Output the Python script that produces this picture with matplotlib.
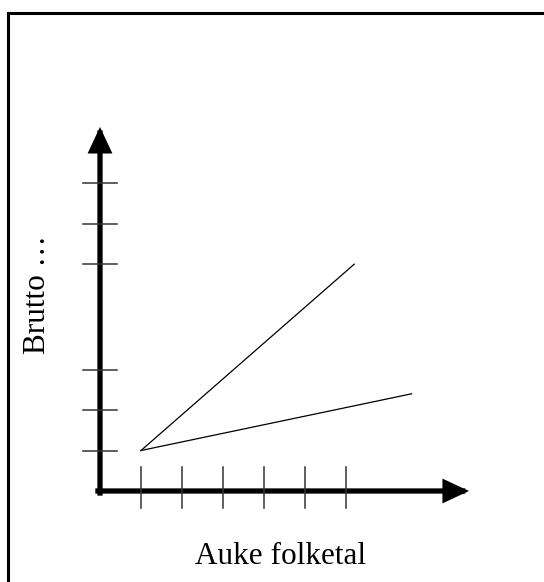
import matplotlib
matplotlib.use("Agg")
import matplotlib.pyplot as plt
from matplotlib.patches import FancyArrowPatch

# --- data ---
y_ticks = [1, 2, 3, 5.6, 6.6, 7.6]
x_ticks = [1, 2, 3, 4, 5, 6]
line_a_x = [1.0, 6.2]
line_a_y = [1.0, 5.6]
line_b_x = [1.0, 7.6]
line_b_y = [1.0, 2.4]
x_label = "Auke folketal"
y_label = "Brutto …"

plt.rcParams['font.family'] = ['Liberation Serif', 'DejaVu Serif']

fig = plt.figure(figsize=(5.44, 5.82), dpi=100)
ax = fig.add_axes([0, 0, 1, 1])
ax.set_xlim(-100 / 41, 444 / 41)
ax.set_ylim(-91 / 40.5, 491 / 40.5)
ax.axis('off')

# outer frame (partly cropped)
ax.plot([8 / 544, 8 / 544, 1.05], [-0.05, 1 - 13 / 582, 1 - 13 / 582],
        transform=ax.transAxes, color='black', lw=2.2, clip_on=False,
        solid_joinstyle='miter')

# ticks
tick_col = '#333333'
for yt in y_ticks:
    ax.plot([-0.415, 0.415], [yt, yt], color=tick_col, lw=1.1)
for xt in x_ticks:
    ax.plot([xt, xt], [-0.42, 0.6], color=tick_col, lw=1.1)

# axes arrows
for start, end in [((0, -0.05), (0, 8.99)), ((-0.05, 0), (9.0, 0))]:
    arr = FancyArrowPatch(start, end, arrowstyle='-|>,head_length=1.5,head_width=0.7',
                          mutation_scale=8.5, lw=3.8, color='black',
                          shrinkA=0, shrinkB=0, joinstyle='miter', capstyle='projecting')
    ax.add_patch(arr)

# lines
ax.plot(line_a_x, line_a_y, color='black', lw=0.9)
ax.plot(line_b_x, line_b_y, color='black', lw=0.9)

# labels
ax.text((281 - 100) / 41, (491 - 557) / 40.5, x_label, fontsize=22.5,
        ha='center', va='center')
ax.text((38 - 100) / 41, (491 - 295) / 40.5, y_label, fontsize=22.5,
        ha='center', va='center', rotation=90)

fig.savefig('out.png', dpi=100)
